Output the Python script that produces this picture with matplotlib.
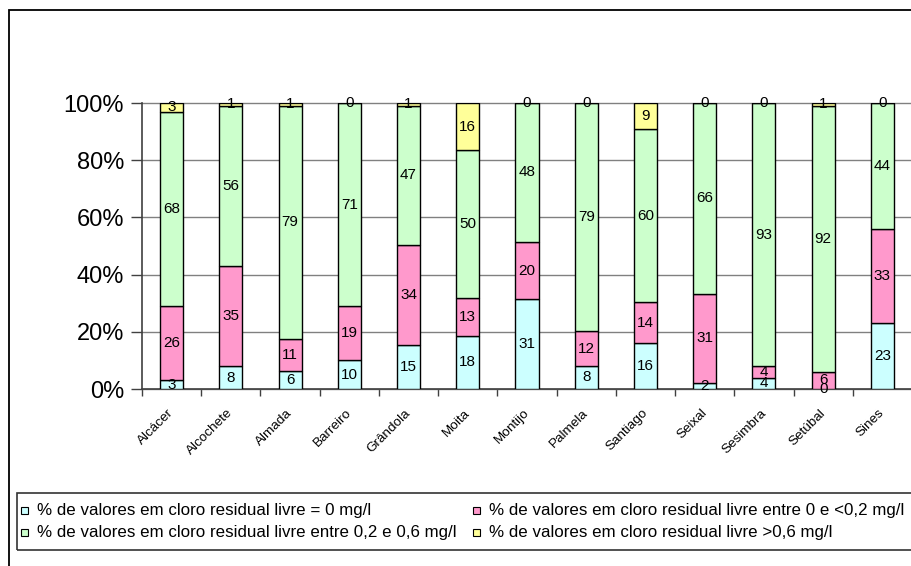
import numpy as np
import matplotlib
matplotlib.use("Agg")
import matplotlib.pyplot as plt
from matplotlib.patches import Rectangle
from matplotlib.transforms import ScaledTranslation

plt.rcParams["font.family"] = ["Liberation Sans", "DejaVu Sans"]

concelhos = ["Alcácer", "Alcochete", "Almada", "Barreiro", "Grândola", "Moita", "Montijo",
             "Palmela", "Santiago", "Seixal", "Sesimbra", "Setúbal", "Sines"]

# % de valores por classe de cloro residual livre
igual_zero = [3, 8, 6, 10, 15, 18, 31, 8, 16, 2, 4, 0, 23]
ate_02 = [26, 35, 11, 19, 34, 13, 20, 12, 14, 31, 4, 6, 33]
entre_02_06 = [68, 56, 79, 71, 47, 50, 48, 79, 60, 66, 93, 92, 44]
acima_06 = [3, 1, 1, 0, 1, 16, 0, 0, 9, 0, 0, 1, 0]

series = [igual_zero, ate_02, entre_02_06, acima_06]
cores = ["#CCFFFF", "#FF99CC", "#CCFFCC", "#FFFF99"]
legendas = ["% de valores em cloro residual livre = 0 mg/l",
            "% de valores em cloro residual livre entre 0 e <0,2 mg/l",
            "% de valores em cloro residual livre entre 0,2 e 0,6 mg/l",
            "% de valores em cloro residual livre >0,6 mg/l"]

W, H = 912, 566
fig = plt.figure(figsize=(W / 100, H / 100), dpi=100)
ax = fig.add_axes([142 / W, 1 - 389 / H, (912 - 142) / W, (389 - 103) / H])

x = np.arange(len(concelhos))
dados = np.array(series, dtype=float)
totais = dados.sum(axis=0)
pct = dados / totais * 100  # barras empilhadas a 100%

base = np.zeros(len(concelhos))
for vals, p, cor in zip(series, pct, cores):
    ax.bar(x, p, 0.39, bottom=base, color=cor, edgecolor="black", linewidth=1, zorder=3)
    for xi, b, h, v in zip(x, base, p, vals):
        ax.text(xi, b + h / 2, str(v), ha="center", va="center", fontsize=11, zorder=4)
    base = base + p

ax.set_xlim(-0.5, len(concelhos) - 0.5)
ax.set_ylim(0, 100)
ax.set_yticks(np.arange(0, 101, 20))
ax.set_yticklabels([f"{v}%" for v in range(0, 101, 20)], fontsize=17)
ax.tick_params(axis="y", length=8, width=1, pad=5, color="#404040")

ax.set_xticks(x)
ax.set_xticklabels([])
ax.set_xticks(np.arange(-0.5, len(concelhos), 1), minor=True)
ax.tick_params(axis="x", which="major", length=0)
ax.tick_params(axis="x", which="minor", length=5, width=1, color="#404040")

ax.grid(axis="y", color="#808080", linewidth=1, zorder=0)
for gl in ax.get_ygridlines():
    gl.set_clip_on(False)
for s in ["top", "right"]:
    ax.spines[s].set_visible(False)
for s in ["left", "bottom"]:
    ax.spines[s].set_color("#404040")
    ax.spines[s].set_linewidth(1.2)

desloc = ScaledTranslation(-0.04, -0.18, fig.dpi_scale_trans)
for xi, nome in zip(x, concelhos):
    ax.text(xi, 0, nome, transform=ax.get_xaxis_transform() + desloc, rotation=45,
            rotation_mode="anchor", ha="right", va="top", fontsize=9.7)

# moldura exterior e caixa da legenda
fig.patches.append(Rectangle((9 / W, -0.1), 1.2, 1 - 10 / H + 0.1, transform=fig.transFigure,
                             fill=False, edgecolor="black", linewidth=1.3))
fig.patches.append(Rectangle((17 / W, 1 - 550 / H), 1.2, (550 - 493) / H, transform=fig.transFigure,
                             fill=False, edgecolor="#333333", linewidth=1.2))

posicoes = [(21, 510), (473, 510), (21, 532), (473, 532)]
for (px, py), cor, texto in zip(posicoes, cores, legendas):
    fig.patches.append(Rectangle((px / W, 1 - (py + 4) / H), 7 / W, 7 / H, transform=fig.transFigure,
                                 facecolor=cor, edgecolor="black", linewidth=0.8))
    fig.text((px + 16) / W, 1 - py / H, texto, ha="left", va="center", fontsize=12.2)

fig.savefig("out.png", dpi=100)
